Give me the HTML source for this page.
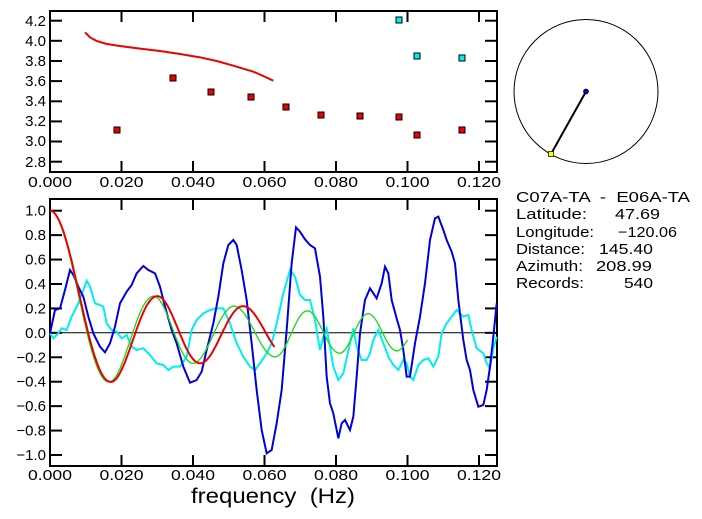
<!DOCTYPE html>
<html><head><meta charset="utf-8"><style>
html,body{margin:0;padding:0;background:#fff;}
svg{display:block;}
text{font-family:"Liberation Sans","DejaVu Sans",sans-serif;fill:#000;}
</style></head><body>
<svg id="s" width="702" height="519" viewBox="0 0 702 519" xmlns="http://www.w3.org/2000/svg">
<rect width="702" height="519" fill="#fff"/>
<rect x="50" y="11" width="447" height="161" fill="none" stroke="#000" stroke-width="2"/>
<g stroke="#000" stroke-width="2">
<line x1="50" y1="20.7" x2="62" y2="20.7"/><line x1="50" y1="40.8" x2="62" y2="40.8"/><line x1="50" y1="61" x2="62" y2="61"/><line x1="50" y1="81.1" x2="62" y2="81.1"/><line x1="50" y1="101.3" x2="62" y2="101.3"/><line x1="50" y1="121.4" x2="62" y2="121.4"/><line x1="50" y1="141.5" x2="62" y2="141.5"/><line x1="50" y1="161.7" x2="62" y2="161.7"/>
<line x1="485" y1="20.7" x2="497" y2="20.7"/><line x1="485" y1="40.8" x2="497" y2="40.8"/><line x1="485" y1="61" x2="497" y2="61"/><line x1="485" y1="81.1" x2="497" y2="81.1"/><line x1="485" y1="101.3" x2="497" y2="101.3"/><line x1="485" y1="121.4" x2="497" y2="121.4"/><line x1="485" y1="141.5" x2="497" y2="141.5"/><line x1="485" y1="161.7" x2="497" y2="161.7"/>
<line x1="121.5" y1="11" x2="121.5" y2="22"/><line x1="193" y1="11" x2="193" y2="22"/><line x1="264.5" y1="11" x2="264.5" y2="22"/><line x1="336" y1="11" x2="336" y2="22"/><line x1="407.5" y1="11" x2="407.5" y2="22"/><line x1="479" y1="11" x2="479" y2="22"/>
<line x1="121.5" y1="161" x2="121.5" y2="172"/><line x1="193" y1="161" x2="193" y2="172"/><line x1="264.5" y1="161" x2="264.5" y2="172"/><line x1="336" y1="161" x2="336" y2="172"/><line x1="407.5" y1="161" x2="407.5" y2="172"/><line x1="479" y1="161" x2="479" y2="172"/>
</g>
<g font-size="15" text-anchor="end">
<text x="46" y="26">4.2</text><text x="46" y="46">4.0</text><text x="46" y="66">3.8</text><text x="46" y="86">3.6</text><text x="46" y="106">3.4</text><text x="46" y="126">3.2</text><text x="46" y="146">3.0</text><text x="46" y="167">2.8</text>
</g>
<g font-size="15" text-anchor="middle" lengthAdjust="spacingAndGlyphs">
<text x="50" y="187" textLength="44" lengthAdjust="spacingAndGlyphs">0.000</text><text x="121.5" y="187" textLength="44" lengthAdjust="spacingAndGlyphs">0.020</text><text x="193" y="187" textLength="44" lengthAdjust="spacingAndGlyphs">0.040</text><text x="264.5" y="187" textLength="44" lengthAdjust="spacingAndGlyphs">0.060</text><text x="336" y="187" textLength="44" lengthAdjust="spacingAndGlyphs">0.080</text><text x="407.5" y="187" textLength="44" lengthAdjust="spacingAndGlyphs">0.100</text><text x="479" y="187" textLength="44" lengthAdjust="spacingAndGlyphs">0.120</text>
</g>
<polyline fill="none" stroke="#e00" stroke-width="6" transform="scale(0.33333)" points="255,97 270,112 290,123 320,132 360,138 420,146 480,153 540,162 600,172 650,183 700,197 760,215 790,228 820,242"/>
<g stroke="#000" stroke-width="1">
<g fill="#e00">
<rect x="114" y="127" width="6" height="6"/><rect x="170" y="75" width="6" height="6"/><rect x="208" y="89" width="6" height="6"/><rect x="248" y="94" width="6" height="6"/><rect x="283" y="104" width="6" height="6"/><rect x="318" y="112" width="6" height="6"/><rect x="357" y="113" width="6" height="6"/><rect x="396" y="114" width="6" height="6"/><rect x="414" y="132" width="6" height="6"/><rect x="459" y="127" width="6" height="6"/>
</g>
<g fill="#0ee">
<rect x="396" y="17" width="6" height="6"/><rect x="414" y="53" width="6" height="6"/><rect x="459" y="55" width="6" height="6"/>
</g>
</g>
<circle cx="586" cy="91.5" r="72" fill="none" stroke="#000" stroke-width="1"/>
<line x1="586" y1="91.5" x2="551" y2="154" stroke="#000" stroke-width="2"/>
<circle cx="586" cy="91.5" r="2.5" fill="#00c" stroke="#000" stroke-width="0.7"/>
<rect x="548.5" y="151.5" width="5" height="5" fill="#ff0" stroke="#000" stroke-width="0.7"/>
<g font-size="14.5">
<text x="516" y="202" xml:space="preserve" textLength="174" lengthAdjust="spacingAndGlyphs">C07A-TA  -  E06A-TA</text>
<text x="516" y="219" textLength="71" lengthAdjust="spacingAndGlyphs">Latitude:</text><text x="615" y="219" textLength="45" lengthAdjust="spacingAndGlyphs">47.69</text>
<text x="516" y="237" textLength="78" lengthAdjust="spacingAndGlyphs">Longitude:</text><text x="618" y="237" textLength="59" lengthAdjust="spacingAndGlyphs">−120.06</text>
<text x="516" y="254" textLength="69" lengthAdjust="spacingAndGlyphs">Distance:</text><text x="599" y="254" textLength="54" lengthAdjust="spacingAndGlyphs">145.40</text>
<text x="516" y="271" textLength="67" lengthAdjust="spacingAndGlyphs">Azimuth:</text><text x="596" y="271" textLength="56" lengthAdjust="spacingAndGlyphs">208.99</text>
<text x="516" y="288" textLength="68" lengthAdjust="spacingAndGlyphs">Records:</text><text x="624" y="288" textLength="29" lengthAdjust="spacingAndGlyphs">540</text>
</g>
<rect x="50" y="199" width="447" height="267" fill="none" stroke="#000" stroke-width="2"/>
<line x1="50" y1="332.8" x2="497" y2="332.8" stroke="#000" stroke-width="1"/>
<g id="bt" stroke="#000" stroke-width="2"></g>
<g id="bl" font-size="15" text-anchor="end"></g>
<g font-size="15" text-anchor="middle">
<text x="50" y="480" textLength="44" lengthAdjust="spacingAndGlyphs">0.000</text><text x="121.5" y="480" textLength="44" lengthAdjust="spacingAndGlyphs">0.020</text><text x="193" y="480" textLength="44" lengthAdjust="spacingAndGlyphs">0.040</text><text x="264.5" y="480" textLength="44" lengthAdjust="spacingAndGlyphs">0.060</text><text x="336" y="480" textLength="44" lengthAdjust="spacingAndGlyphs">0.080</text><text x="407.5" y="480" textLength="44" lengthAdjust="spacingAndGlyphs">0.100</text><text x="479" y="480" textLength="44" lengthAdjust="spacingAndGlyphs">0.120</text>
</g>
<text x="191" y="503" font-size="21" xml:space="preserve" textLength="164" lengthAdjust="spacingAndGlyphs">frequency  (Hz)</text>
<g transform="translate(0,190) scale(0.33333)" fill="none" stroke-width="6">
<polyline stroke="#0ee" points="150,430 160,445 175,430 185,415 200,420 215,380 235,340 250,300 260,272 270,290 285,340 300,345 310,350 320,400 335,420 350,425 365,445 380,435 395,470 410,480 430,475 450,495 470,520 490,525 505,540 520,530 540,530 560,500 575,420 590,390 610,370 630,360 650,355 670,355 690,400 710,460 730,500 750,530 765,540 780,520 800,490 815,460 830,400 850,310 870,240 885,260 900,315 915,330 930,330 945,390 960,480 970,440 980,415 990,470 1000,530 1015,570 1030,550 1050,460 1060,415 1070,470 1085,510 1100,510 1110,490 1120,450 1135,420 1150,460 1165,500 1180,525 1195,540 1210,510 1220,520 1230,560 1240,570 1255,525 1270,510 1285,505 1300,530 1315,500 1325,430 1340,400 1355,380 1370,360 1390,380 1405,375 1415,420 1430,475 1450,490 1460,520 1470,535 1480,475 1490,440"/>
<polyline stroke="#00d" points="150,430 165,360 180,355 195,300 210,240 220,255 235,290 250,320 265,380 280,430 300,470 315,487 330,460 345,410 360,340 380,305 395,285 410,250 430,228 445,240 465,250 480,290 495,350 515,420 530,460 550,530 570,578 590,570 605,545 620,480 640,400 655,320 670,220 685,165 700,150 710,165 725,240 740,330 755,460 770,600 785,720 800,790 815,780 830,700 845,600 860,420 875,220 888,112 900,125 915,148 930,165 945,175 960,260 970,380 980,560 990,640 1000,670 1015,745 1025,700 1035,690 1050,720 1060,680 1070,560 1080,430 1095,330 1110,295 1130,325 1145,280 1155,230 1165,250 1175,330 1190,385 1200,420 1210,480 1220,560 1230,560 1245,460 1260,380 1275,280 1290,150 1305,85 1315,80 1330,120 1340,150 1355,185 1365,220 1375,330 1390,450 1400,510 1410,540 1420,600 1435,650 1450,645 1460,600 1470,530 1480,440 1490,340"/>
</g>
<polyline id="green" fill="none" stroke="#1d1" stroke-width="1.3"/>
<polyline id="red" fill="none" stroke="#e00" stroke-width="2"/>
</svg>
<script>
(function(){
var ns="http://www.w3.org/2000/svg";
var bt=document.getElementById("bt"),bl=document.getElementById("bl");
var labs=["1.0","0.8","0.6","0.4","0.2","0.0","-0.2","-0.4","-0.6","-0.8","-1.0"];
for(var i=0;i<11;i++){var y=210.7+i*24.43;
[[50,62],[485,497]].forEach(function(p){var l=document.createElementNS(ns,"line");l.setAttribute("x1",p[0]);l.setAttribute("x2",p[1]);l.setAttribute("y1",y);l.setAttribute("y2",y);bt.appendChild(l);});
var t=document.createElementNS(ns,"text");t.setAttribute("x",46);t.setAttribute("y",y+5);t.textContent=labs[i].replace("-","\u2212");bl.appendChild(t);}
for(var j=1;j<=6;j++){var x=50+j*71.5;[[199,210],[455,466]].forEach(function(p){var l=document.createElementNS(ns,"line");l.setAttribute("x1",x);l.setAttribute("x2",x);l.setAttribute("y1",p[0]);l.setAttribute("y2",p[1]);bt.appendChild(l);});}
function J0(x){var s=0,n=200;for(var k=0;k<n;k++){var th=(k+0.5)*Math.PI/n;s+=Math.cos(x*Math.sin(th));}return s/n;}
function interp(f,F,A){for(var i=1;i<F.length;i++){if(f<=F[i]){var u=(f-F[i-1])/(F[i]-F[i-1]);return A[i-1]+u*(A[i]-A[i-1]);}}var m=F.length-1;return A[m]+(f-F[m])*(A[m]-A[m-1])/(F[m]-F[m-1]);}
function curve(id,F,A,fmax){var pts=[];for(var f=0;f<=fmax+1e-9;f+=0.0004){var a=interp(f,F,A);var v=J0(a);pts.push((50+f*3575).toFixed(1)+","+(332.8-v*122.15).toFixed(1));}document.getElementById(id).setAttribute("points",pts.join(" "));}
curve("red",[0,0.017,0.030,0.042,0.054,0.063],[0,3.832,7.016,10.17,13.32,15.6],0.063);
curve("green",[0,0.0165,0.029,0.040,0.0515,0.063,0.072,0.081,0.089,0.097],[0,3.832,7.016,10.17,13.32,16.47,19.62,22.76,25.9,29.05],0.1);
})();
</script>
</body></html>
